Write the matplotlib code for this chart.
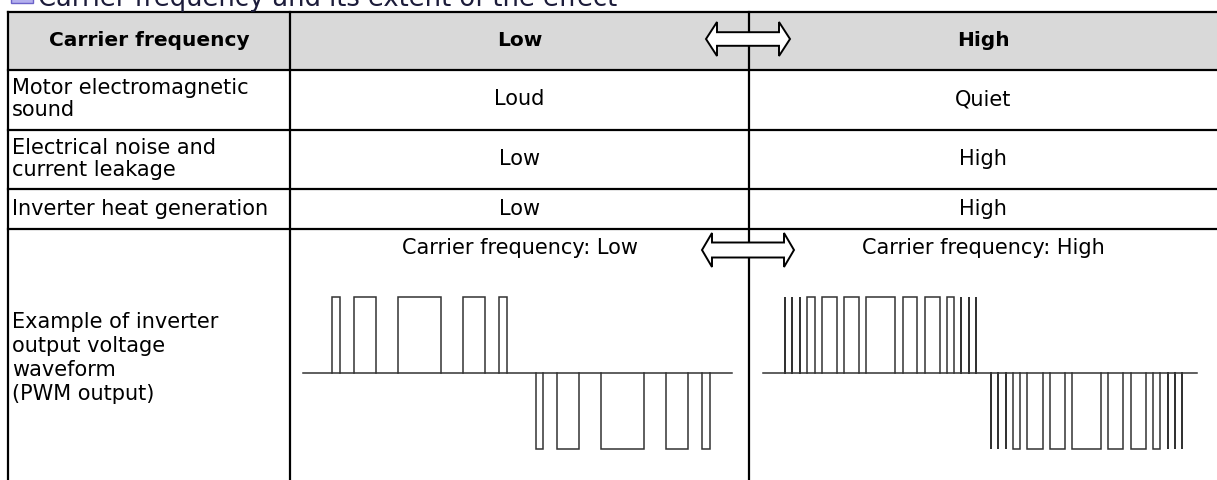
import matplotlib.pyplot as plt
from matplotlib.patches import Polygon, Rectangle

plt.rcParams['font.family'] = ['DejaVu Sans']

# table content
title = "Carrier frequency and its extent of the effect"
header = ["Carrier frequency", "Low", "High"]
row_labels = ["Motor electromagnetic\nsound",
              "Electrical noise and\ncurrent leakage",
              "Inverter heat generation",
              "Example of inverter\noutput voltage\nwaveform\n(PWM output)"]
low_col = ["Loud", "Low", "Low"]
high_col = ["Quiet", "High", "High"]
wave_titles = ["Carrier frequency: Low", "Carrier frequency: High"]

# PWM pulses (start, end) along the time axis of each waveform
low_span = 429
low_pos = [(29, 37), (51, 73), (95, 138), (160, 182), (196, 204)]
low_neg = [(233, 240), (254, 276), (298, 341), (363, 385), (399, 407)]

high_span = 434
high_pos = [(22, 22), (29.3, 29.3), (36.7, 36.7), (44.3, 51.7), (58.7, 73.7),
            (80.7, 95.7), (103, 132.3), (139.7, 154.3), (161.7, 176.7),
            (183.7, 191), (198.3, 198.3), (205.7, 205.7), (213, 213)]
high_neg = [(227.7, 227.7), (235.3, 235.3), (242.7, 242.7), (249.7, 257),
            (264.3, 279.7), (286.7, 301.7), (308.7, 338), (345.3, 360.3),
            (367.7, 382.7), (389.7, 397), (404.7, 404.7), (412, 412), (419, 419)]

W, H = 1217, 480
fig = plt.figure(figsize=(W / 100, H / 100), dpi=100)
ax = fig.add_axes([0, 0, 1, 1])
ax.set_xlim(0, W)
ax.set_ylim(H, 0)
ax.axis('off')

# layout (pixels)
x0, c1, c2, x1 = 8, 290, 749, 1217
rows = [12, 70, 130, 189, 229, 480]
lw = 1.6

ax.add_patch(Rectangle((x0, rows[0]), x1 - x0, rows[1] - rows[0],
                       facecolor='#d9d9d9', edgecolor='none', zorder=0))
for y in rows[:-1]:
    ax.plot([x0, x1], [y, y], color='black', lw=lw, zorder=2)
for x in [x0, c1, c2]:
    ax.plot([x, x], [rows[0], rows[-1]], color='black', lw=lw, zorder=2)

# title (cut off at the top edge like the source)
ax.add_patch(Rectangle((11, -20), 22, 23, facecolor='#b4b0ee',
                       edgecolor='#6c63c9', lw=1, clip_on=False))
ax.text(38, 6, title, color='#1c1c3a', fontsize=18.5, va='baseline', ha='left')

fs = 15
for i, xc in enumerate([(x0 + c1) / 2, (c1 + c2) / 2, (c2 + x1) / 2]):
    ax.text(xc, 41, header[i], ha='center', va='center',
            fontsize=14.5, fontweight='bold')

label_y = [99, 159, 209, 358]
for i, lab in enumerate(row_labels):
    ax.text(12, label_y[i], lab, ha='left', va='center', fontsize=fs,
            linespacing=1.12 if i < 3 else 1.25)
for i in range(3):
    ax.text((c1 + c2) / 2, label_y[i], low_col[i], ha='center', va='center', fontsize=fs)
    ax.text((c2 + x1) / 2, label_y[i], high_col[i], ha='center', va='center', fontsize=fs)

ax.text(520, 248, wave_titles[0], ha='center', va='center', fontsize=fs)
ax.text(983, 248, wave_titles[1], ha='center', va='center', fontsize=fs)


def double_arrow(cx, cy, half_len, head_len, head_h, shaft_h):
    pts = [(cx - half_len, cy),
           (cx - half_len + head_len, cy - head_h),
           (cx - half_len + head_len, cy - shaft_h),
           (cx + half_len - head_len, cy - shaft_h),
           (cx + half_len - head_len, cy - head_h),
           (cx + half_len, cy),
           (cx + half_len - head_len, cy + head_h),
           (cx + half_len - head_len, cy + shaft_h),
           (cx - half_len + head_len, cy + shaft_h),
           (cx - half_len + head_len, cy + head_h)]
    ax.add_patch(Polygon(pts, closed=True, facecolor='white', edgecolor='black',
                         lw=1.4, joinstyle='miter', zorder=3))


double_arrow(748, 39, 42, 11, 17, 6.8)
double_arrow(748, 250, 46, 10, 17, 7.5)


def pwm(left, span, pos, neg):
    wax = fig.add_axes([left / W, 1 - 449 / H, span / W, 152 / H])
    wax.plot([0, span], [0, 0], color='#333333', lw=1.1, clip_on=False)
    for pulses, s in [(pos, 1), (neg, -1)]:
        for a, b in pulses:
            wax.plot([a, a, b, b], [0, s, s, 0], color='#333333', lw=1.1,
                     clip_on=False, solid_joinstyle='miter')
    wax.set_xlim(0, span)
    wax.set_ylim(-1, 1)
    wax.axis('off')


pwm(303, low_span, low_pos, low_neg)
pwm(763, high_span, high_pos, high_neg)

fig.savefig('out.png', dpi=100)
